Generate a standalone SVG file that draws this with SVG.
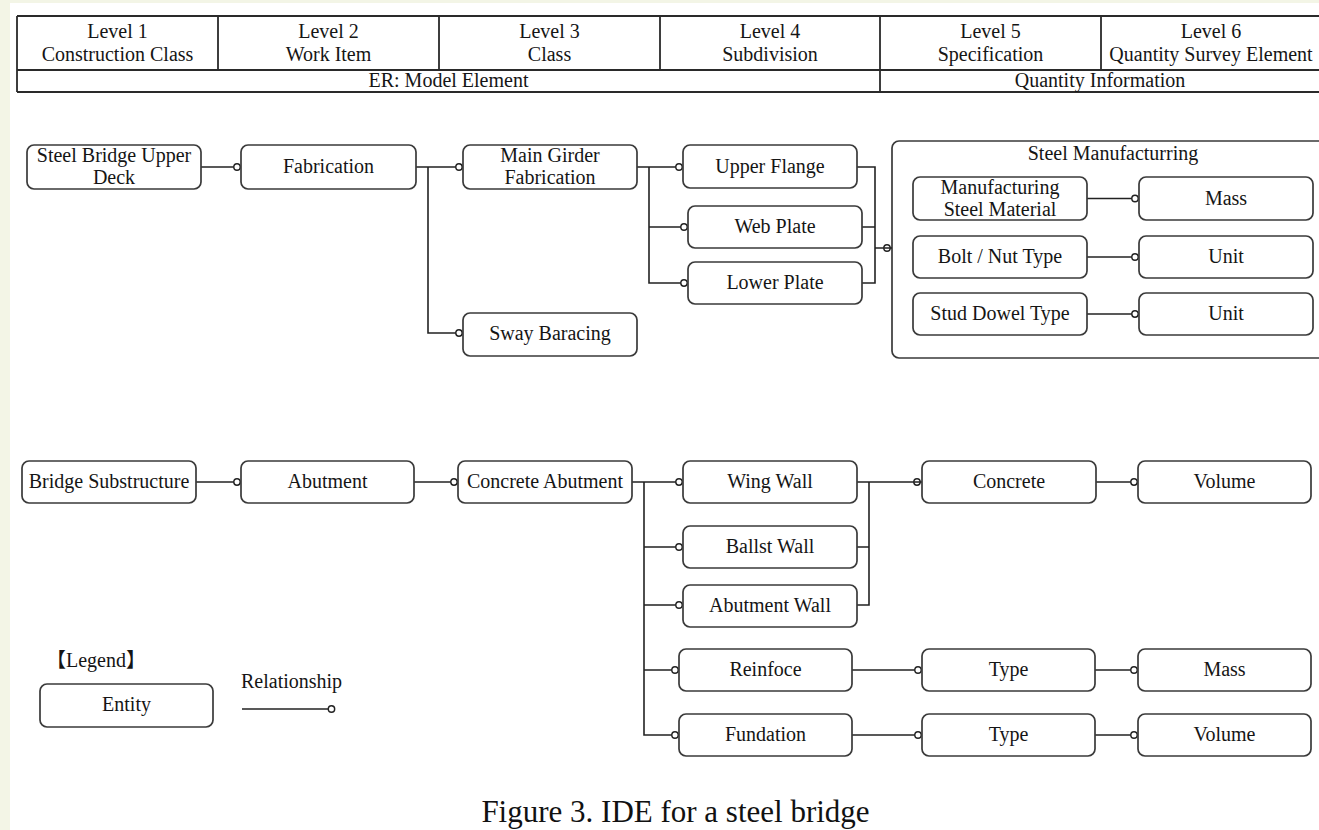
<svg xmlns="http://www.w3.org/2000/svg" width="1319" height="830" viewBox="0 0 1319 830">
<style>
  .t { font-family: "Liberation Serif", "Times New Roman", serif; font-size: 20px; fill: #151515; text-anchor: middle; }
  .tl { font-family: "Liberation Serif", "Noto Sans CJK JP", serif; font-size: 20px; fill: #151515; }
  .cap { font-family: "Liberation Serif", "Times New Roman", serif; font-size: 31px; fill: #111; text-anchor: middle; }
  .box { fill: #fff; stroke: #3a3a3a; stroke-width: 1.7; }
  .grp { fill: none; stroke: #3a3a3a; stroke-width: 1.7; }
  .grid { fill: none; stroke: #2a2a2a; stroke-width: 1.8; }
  .ln { fill: none; stroke: #222; stroke-width: 1.6; }
  .c { fill: #fff; stroke: #222; stroke-width: 1.4; }
  .ct { fill: none; stroke: #222; stroke-width: 1.4; }
</style>
<rect x="0" y="0" width="1319" height="830" fill="#f3f5e6"/>
<rect x="10" y="3" width="1309" height="827" fill="#ffffff"/>

<g id="header">
  <path class="grid" d="M17 16 H1319 M17 70 H1319 M17 92 H1319 M17 16 V92 M218 16 V70 M439 16 V70 M660 16 V70 M880 16 V92 M1101 16 V70"/>
  <text class="t" x="117.5" y="38">Level 1</text>
  <text class="t" x="117.5" y="61">Construction Class</text>
  <text class="t" x="328.5" y="38">Level 2</text>
  <text class="t" x="328.5" y="61">Work Item</text>
  <text class="t" x="549.5" y="38">Level 3</text>
  <text class="t" x="549.5" y="61">Class</text>
  <text class="t" x="770" y="38">Level 4</text>
  <text class="t" x="770" y="61">Subdivision</text>
  <text class="t" x="990.5" y="38">Level 5</text>
  <text class="t" x="990.5" y="61">Specification</text>
  <text class="t" x="1211" y="38">Level 6</text>
  <text class="t" x="1211" y="61">Quantity Survey Element</text>
  <text class="t" x="448.5" y="87">ER: Model Element</text>
  <text class="t" x="1100" y="87">Quantity Information</text>
</g>

<g id="n-steel-manufacturing"><rect class="grp" x="892" y="141" width="450" height="217" rx="7"/>
  <text class="t" x="1113" y="160">Steel Manufacturring</text></g>

<g id="connectors">
  <!-- row 1 -->
  <path class="ln" d="M201 167 H234"/><circle class="c" cx="237" cy="167" r="3.2"/>
  <path class="ln" d="M416 167 H456 M428 167 V333 H456"/>
  <circle class="c" cx="459" cy="167" r="3.2"/><circle class="c" cx="459" cy="333" r="3.2"/>
  <path class="ln" d="M637 167 H676 M649 167 V283 H681 M649 227 H681"/>
  <circle class="c" cx="679" cy="167" r="3.2"/><circle class="c" cx="684" cy="227" r="3.2"/><circle class="c" cx="684" cy="283" r="3.2"/>
  <path class="ln" d="M857 167 H875 V283 H862 M862 227 H875 M875 248 H892"/>
  <circle class="ct" cx="887" cy="248" r="3.2"/>
  <path class="ln" d="M1087 198.5 H1132"/><circle class="c" cx="1135" cy="198.5" r="3.2"/>
  <path class="ln" d="M1087 257 H1132"/><circle class="c" cx="1135" cy="257" r="3.2"/>
  <path class="ln" d="M1087 314 H1132"/><circle class="c" cx="1135" cy="314" r="3.2"/>
  <!-- row 2 -->
  <path class="ln" d="M196 482 H234"/><circle class="c" cx="237" cy="482" r="3.2"/>
  <path class="ln" d="M414 482 H451"/><circle class="c" cx="454" cy="482" r="3.2"/>
  <path class="ln" d="M632 482 H676 M644 482 V735 H672 M644 547 H676 M644 605 H676 M644 670 H672"/>
  <circle class="c" cx="679" cy="482" r="3.2"/><circle class="c" cx="679" cy="547" r="3.2"/><circle class="c" cx="679" cy="605" r="3.2"/>
  <circle class="c" cx="675" cy="670" r="3.2"/><circle class="c" cx="675" cy="735" r="3.2"/>
  <path class="ln" d="M857 482 H922 M869 482 V605 H857 M857 547 H869"/>
  <circle class="ct" cx="917" cy="482" r="3.2"/>
  <path class="ln" d="M1096 482 H1131"/><circle class="c" cx="1134" cy="482" r="3.2"/>
  <path class="ln" d="M852 670 H915"/><circle class="c" cx="918" cy="670" r="3.2"/>
  <path class="ln" d="M1095 670 H1131"/><circle class="c" cx="1134" cy="670" r="3.2"/>
  <path class="ln" d="M852 735 H915"/><circle class="c" cx="918" cy="735" r="3.2"/>
  <path class="ln" d="M1095 735 H1131"/><circle class="c" cx="1134" cy="735" r="3.2"/>
</g>

<g id="n-steel-bridge-upper-deck"><rect class="box" x="27" y="145" width="174" height="44" rx="7"/>
  <text class="t" x="114" y="162">Steel Bridge Upper</text><text class="t" x="114" y="184">Deck</text></g>
<g id="n-fabrication"><rect class="box" x="241" y="145" width="175" height="44" rx="7"/>
  <text class="t" x="328.5" y="173">Fabrication</text></g>
<g id="n-main-girder"><rect class="box" x="463" y="145" width="174" height="44" rx="7"/>
  <text class="t" x="550" y="162">Main Girder</text><text class="t" x="550" y="184">Fabrication</text></g>
<g id="n-sway"><rect class="box" x="463" y="313" width="174" height="43" rx="7"/>
  <text class="t" x="550" y="340">Sway Baracing</text></g>
<g id="n-upper-flange"><rect class="box" x="683" y="145" width="174" height="43" rx="7"/>
  <text class="t" x="770" y="173">Upper Flange</text></g>
<g id="n-web-plate"><rect class="box" x="688" y="206" width="174" height="42" rx="7"/>
  <text class="t" x="775" y="233">Web Plate</text></g>
<g id="n-lower-plate"><rect class="box" x="688" y="262" width="174" height="42" rx="7"/>
  <text class="t" x="775" y="289">Lower Plate</text></g>

<g id="n-msm"><rect class="box" x="913" y="177" width="174" height="43" rx="7"/>
  <text class="t" x="1000" y="194">Manufacturing</text><text class="t" x="1000" y="216">Steel Material</text></g>
<g id="n-mass1"><rect class="box" x="1139" y="177" width="174" height="43" rx="7"/>
  <text class="t" x="1226" y="205">Mass</text></g>
<g id="n-bolt"><rect class="box" x="913" y="236" width="174" height="42" rx="7"/>
  <text class="t" x="1000" y="263">Bolt / Nut Type</text></g>
<g id="n-unit1"><rect class="box" x="1139" y="236" width="174" height="42" rx="7"/>
  <text class="t" x="1226" y="263">Unit</text></g>
<g id="n-stud"><rect class="box" x="913" y="293" width="174" height="42" rx="7"/>
  <text class="t" x="1000" y="320">Stud Dowel Type</text></g>
<g id="n-unit2"><rect class="box" x="1139" y="293" width="174" height="42" rx="7"/>
  <text class="t" x="1226" y="320">Unit</text></g>

<g id="n-bridge-substructure"><rect class="box" x="22" y="461" width="174" height="42" rx="7"/>
  <text class="t" x="109" y="488">Bridge Substructure</text></g>
<g id="n-abutment"><rect class="box" x="241" y="461" width="173" height="42" rx="7"/>
  <text class="t" x="327.5" y="488">Abutment</text></g>
<g id="n-concrete-abutment"><rect class="box" x="458" y="461" width="174" height="42" rx="7"/>
  <text class="t" x="545" y="488">Concrete Abutment</text></g>
<g id="n-wing-wall"><rect class="box" x="683" y="461" width="174" height="42" rx="7"/>
  <text class="t" x="770" y="488">Wing Wall</text></g>
<g id="n-ballst-wall"><rect class="box" x="683" y="526" width="174" height="42" rx="7"/>
  <text class="t" x="770" y="553">Ballst Wall</text></g>
<g id="n-abutment-wall"><rect class="box" x="683" y="585" width="174" height="42" rx="7"/>
  <text class="t" x="770" y="612">Abutment Wall</text></g>
<g id="n-reinfoce"><rect class="box" x="679" y="649" width="173" height="42" rx="7"/>
  <text class="t" x="765.5" y="676">Reinfoce</text></g>
<g id="n-fundation"><rect class="box" x="679" y="714" width="173" height="42" rx="7"/>
  <text class="t" x="765.5" y="741">Fundation</text></g>
<g id="n-concrete"><rect class="box" x="922" y="461" width="174" height="42" rx="7"/>
  <text class="t" x="1009" y="488">Concrete</text></g>
<g id="n-volume1"><rect class="box" x="1138" y="461" width="173" height="42" rx="7"/>
  <text class="t" x="1224.5" y="488">Volume</text></g>
<g id="n-type1"><rect class="box" x="922" y="649" width="173" height="42" rx="7"/>
  <text class="t" x="1008.5" y="676">Type</text></g>
<g id="n-mass2"><rect class="box" x="1138" y="649" width="173" height="42" rx="7"/>
  <text class="t" x="1224.5" y="676">Mass</text></g>
<g id="n-type2"><rect class="box" x="922" y="714" width="173" height="42" rx="7"/>
  <text class="t" x="1008.5" y="741">Type</text></g>
<g id="n-volume2"><rect class="box" x="1138" y="714" width="173" height="42" rx="7"/>
  <text class="t" x="1224.5" y="741">Volume</text></g>

<g id="legend">
  <text class="tl" x="46" y="667">【Legend】</text>
  <rect class="box" x="40" y="684" width="173" height="43" rx="7"/>
  <text class="t" x="126.5" y="711">Entity</text>
  <text class="tl" x="241" y="688">Relationship</text>
  <path class="ln" d="M242 709 H328"/><circle class="c" cx="331.5" cy="709" r="3.2"/>
</g>

<g id="caption">
  <text class="cap" x="675.5" y="822">Figure 3. IDE for a steel bridge</text>
</g>
</svg>
